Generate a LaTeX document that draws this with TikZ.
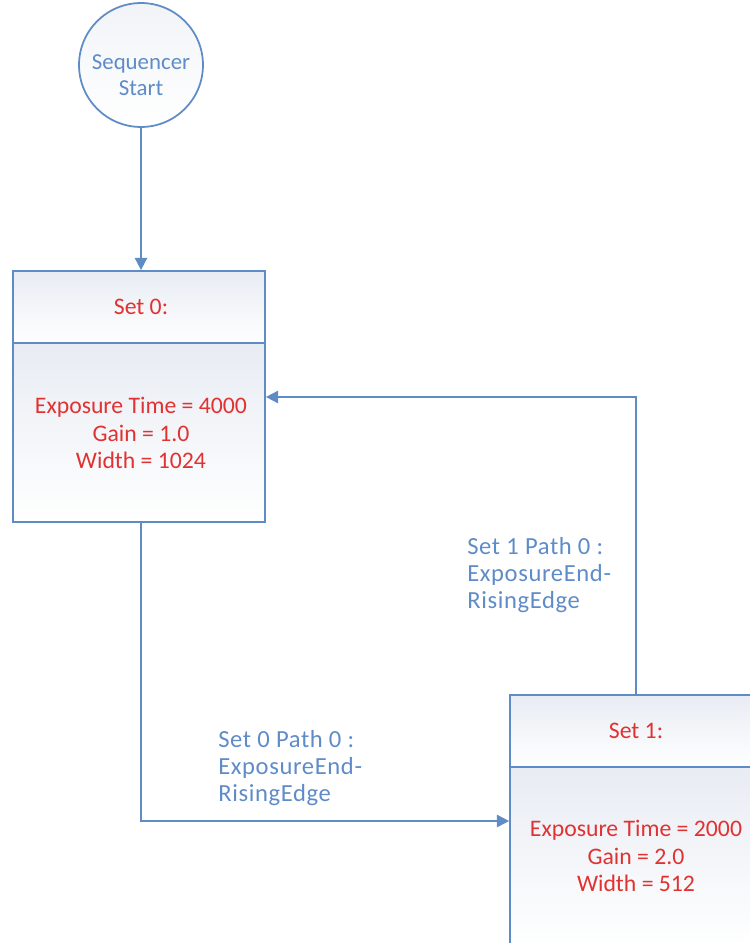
\documentclass[tikz,border=0pt]{standalone}
\usepackage{fontspec}
\setmainfont{Carlito}
\usetikzlibrary{arrows.meta}
\definecolor{lineblue}{RGB}{95,140,198}
\definecolor{txtred}{RGB}{225,50,50}
\definecolor{lblblue}{RGB}{95,140,200}
\definecolor{boxtop}{RGB}{232,236,243}
\tikzset{
  conn/.style={draw=lineblue, line width=1pt, -{Triangle[width=7pt,length=7pt]}},
  boxpart/.style={draw=lineblue, line width=1pt, rectangle, inner sep=0pt, minimum width=5.04cm, top color=boxtop, bottom color=white},
  redtxt/.style={text=txtred, font=\fontsize{13.5}{15.5}\selectfont, align=center},
  lbl/.style={text=lblblue, font=\fontsize{14}{15.5}\selectfont\addfontfeature{LetterSpace=2.5}, align=left, anchor=north west, inner sep=0pt},
  startcirc/.style={circle, draw=lineblue, line width=1pt, minimum size=2.48cm, inner sep=0pt, top color=boxtop!60, bottom color=white},
  circtxt/.style={text=lblblue, font=\fontsize{13}{15}\selectfont, align=center, inner sep=0pt}
}
\begin{document}
\begin{tikzpicture}[x=0.02cm,y=-0.02cm]
\useasboundingbox (0,0) rectangle (750,943);
\clip (0,0) rectangle (750,943);
\node[startcirc] (start) at (141,65) {};
\node[circtxt] (starttxt) at (141,75) {Sequencer\\Start};
% Set 0
\node[boxpart, minimum height=1.44cm] (s0head) at (139,307) {};
\node[boxpart, minimum height=3.58cm] (s0body) at (139,432.5) {};
\node[redtxt] (s0title) at (141,307) {Set 0:};
\node[redtxt] (s0text) at (141,433) {Exposure Time = 4000\\Gain = 1.0\\Width = 1024};
% Set 1
\node[boxpart, minimum height=1.44cm] (s1head) at (636,731) {};
\node[boxpart, minimum height=3.58cm] (s1body) at (636,856.5) {};
\node[redtxt] (s1title) at (636,731) {Set 1:};
\node[redtxt] (s1text) at (636,856) {Exposure Time = 2000\\Gain = 2.0\\Width = 512};
% labels
\node[lbl] (l0) at (218,730) {Set 0 Path 0 :\\ExposureEnd-\\RisingEdge};
\node[lbl] (l1) at (467,537) {Set 1 Path 0 :\\ExposureEnd-\\RisingEdge};
% connectors
\coordinate (j1) at (141,821);
\coordinate (j2) at (636,397);
\draw[conn] (start.south) -- (s0head.north -| start.south);
\draw[conn] (s0body.south -| j1) -- (j1) -- (j1 -| s1body.west);
\draw[conn] (s1head.north -| j2) -- (j2) -- (j2 -| s0body.east);
\end{tikzpicture}
\end{document}
